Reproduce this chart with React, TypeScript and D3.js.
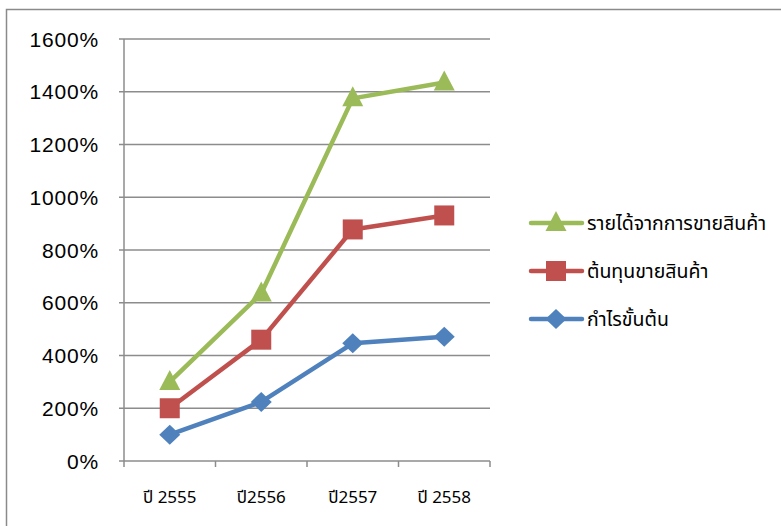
import React from "react";
import * as d3 from "d3";

const categories = ["ปี 2555", "ปี2556", "ปี2557", "ปี 2558"];
const revenue = [300, 635, 1375, 1435];
const cost = [200, 460, 878, 931];
const grossProfit = [100, 224, 446, 471];
const yTicks = [0, 200, 400, 600, 800, 1000, 1200, 1400, 1600];
const seriesNames = ["รายได้จากการขายสินค้า", "ต้นทุนขายสินค้า", "กำไรขั้นต้น"];

const W = 781, H = 526;
const plot = { left: 124, right: 490, top: 39, bottom: 461 };

export default function App() {
  const x = d3.scaleBand<string>().domain(categories).range([plot.left, plot.right]);
  const y = d3.scaleLinear().domain([0, 1600]).range([plot.bottom, plot.top]);
  const line = d3.line<number>()
    .x((_, i) => (x(categories[i]) as number) + x.bandwidth() / 2)
    .y((d) => y(d));

  const series = [
    { name: seriesNames[0], values: revenue, color: "#9BBB59", shape: "triangle" },
    { name: seriesNames[1], values: cost, color: "#C0504D", shape: "square" },
    { name: seriesNames[2], values: grossProfit, color: "#4F81BD", shape: "diamond" },
  ];

  const marker = (shape: string, cx: number, cy: number, color: string, key: string) => {
    if (shape === "triangle") {
      const d = `M${cx},${cy - 12}L${cx + 10.5},${cy + 8}L${cx - 10.5},${cy + 8}Z`;
      return <path key={key} d={d} fill={color} />;
    }
    if (shape === "square") {
      return <rect key={key} x={cx - 10} y={cy - 10} width={20} height={20} fill={color} />;
    }
    const d = `M${cx},${cy - 10}L${cx + 10.5},${cy}L${cx},${cy + 10}L${cx - 10.5},${cy}Z`;
    return <path key={key} d={d} fill={color} />;
  };

  const axisColor = "#8c8c8c";
  const thaiFont = "Tahoma, 'Noto Sans Thai', 'Noto Sans', 'DejaVu Sans', sans-serif";
  const legendY = [223, 271, 319];

  return (
    <svg width={W} height={H} style={{ position: "absolute", left: 0, top: 0, background: "#fff" }}>
      <rect x={6.5} y={9.5} width={900} height={700} fill="#fff" stroke="#8a8a8a" strokeWidth={1.5} />
      {yTicks.map((t) => (
        <g key={t}>
          <line x1={plot.left - 5} x2={plot.right} y1={y(t)} y2={y(t)} stroke={axisColor} strokeWidth={1.5} />
          <text x={99} y={y(t)} dy="0.36em" textAnchor="end" fontFamily="'Liberation Sans', Arial, sans-serif" fontSize={21} letterSpacing={0.8} fill="#000">
            {t}%
          </text>
        </g>
      ))}
      <line x1={plot.left} x2={plot.left} y1={plot.top} y2={plot.bottom} stroke={axisColor} strokeWidth={1.5} />
      {categories.map((c, i) => (
        <line key={"xt" + i} x1={x(c) as number} x2={x(c) as number} y1={plot.bottom} y2={plot.bottom + 6} stroke={axisColor} strokeWidth={1.5} />
      ))}
      <line x1={plot.right} x2={plot.right} y1={plot.bottom} y2={plot.bottom + 6} stroke={axisColor} strokeWidth={1.5} />
      {categories.map((c) => (
        <text key={c} x={(x(c) as number) + x.bandwidth() / 2} y={503} textAnchor="middle" fontFamily={thaiFont} fontSize={17} fill="#000">
          {c}
        </text>
      ))}
      {series.map((s) => (
        <g key={s.name}>
          <path d={line(s.values) as string} fill="none" stroke={s.color} strokeWidth={4.5} strokeLinejoin="round" />
          {s.values.map((v, i) =>
            marker(s.shape, (x(categories[i]) as number) + x.bandwidth() / 2, y(v), s.color, s.name + i)
          )}
        </g>
      ))}
      {series.map((s, i) => (
        <g key={"lg" + i}>
          <line x1={531} x2={582} y1={legendY[i]} y2={legendY[i]} stroke={s.color} strokeWidth={4.5} strokeLinecap="round" />
          {marker(s.shape, 556, legendY[i], s.color, "lm" + i)}
          <text x={587} y={legendY[i]} dy="0.36em" fontFamily={thaiFont} fontSize={19.5} fill="#000">
            {s.name}
          </text>
        </g>
      ))}
    </svg>
  );
}
